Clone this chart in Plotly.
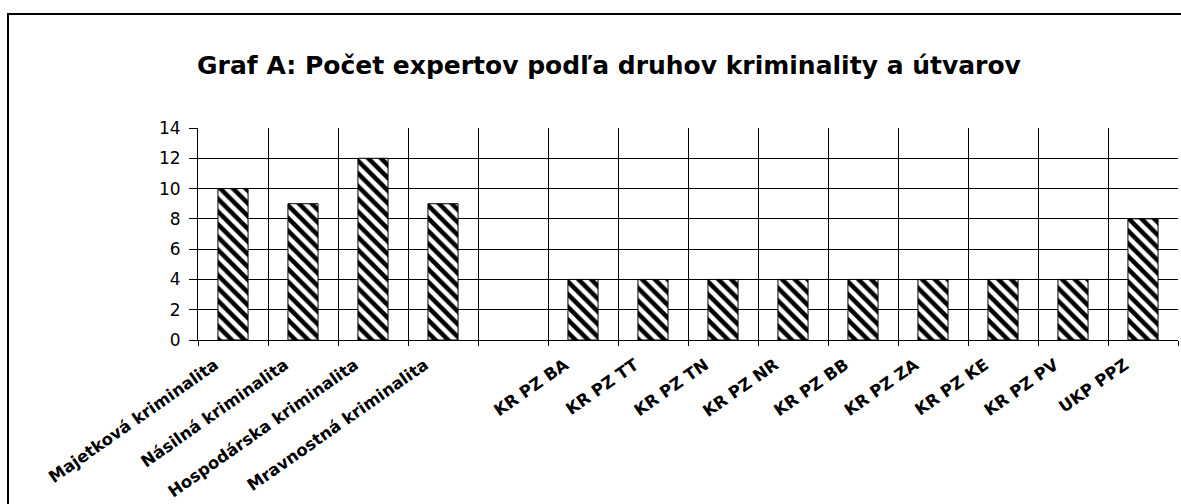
import plotly.graph_objects as go

categories = ["Majetková kriminalita", "Násilná kriminalita", "Hospodárska kriminalita",
              "Mravnostná kriminalita", " ", "KR PZ BA", "KR PZ TT", "KR PZ TN", "KR PZ NR",
              "KR PZ BB", "KR PZ ZA", "KR PZ KE", "KR PZ PV", "UKP PPZ"]
values = [10, 9, 12, 9, None, 4, 4, 4, 4, 4, 4, 4, 4, 8]
y_ticks = [0, 2, 4, 6, 8, 10, 12, 14]
title_text = "Graf A: Počet expertov podľa druhov kriminality a útvarov"

W, H = 1181, 504
L, R, T, B = 198, 3, 128, 164
pw, ph = W - L - R, H - T - B

fig = go.Figure(go.Bar(
    x=categories, y=values, width=0.43,
    marker=dict(color="white",
                line=dict(color="black", width=1),
                pattern=dict(shape="\\", fgcolor="black", bgcolor="white",
                             size=9, solidity=0.5, fillmode="replace")),
    showlegend=False,
))

fig.update_layout(
    width=W, height=H,
    margin=dict(l=L, r=R, t=T, b=B, autoexpand=False),
    paper_bgcolor="white", plot_bgcolor="white",
    title=dict(text="<b>" + title_text + "</b>", x=609 / W, xanchor="center",
               y=1 - 65 / H, yanchor="middle", xref="container", yref="container",
               font=dict(family="DejaVu Sans", size=25, color="black")),
    xaxis=dict(type="category", tickson="boundaries", showgrid=True,
               gridcolor="black", gridwidth=1, ticks="outside", ticklen=5,
               tickcolor="black", showline=True, linecolor="black", linewidth=1,
               tickangle=-35, ticklabelshift=-18, ticklabelstandoff=8,
               automargin=False,
               tickfont=dict(family="DejaVu Sans", size=16.5, color="black", weight="bold"),
               range=[-0.5, 13.5]),
    yaxis=dict(range=[0, 14], tickvals=y_ticks, showgrid=True, gridcolor="black",
               gridwidth=1, ticks="outside", ticklen=8, tickcolor="black",
               showline=True, linecolor="black", linewidth=1, ticklabelstandoff=5,
               automargin=False,
               tickfont=dict(family="DejaVu Sans", size=17, color="black"),
               zeroline=False),
    shapes=[dict(type="rect", xref="paper", yref="paper",
                 x0=(8 - L) / pw, x1=1.05, y0=-1.0, y1=1 + (T - 14) / ph,
                 line=dict(color="black", width=2), fillcolor="rgba(0,0,0,0)",
                 layer="below")],
)

fig.write_html("out.html", config={"displayModeBar": False},
               post_script="document.body.style.margin='0';document.body.style.overflow='hidden';")
